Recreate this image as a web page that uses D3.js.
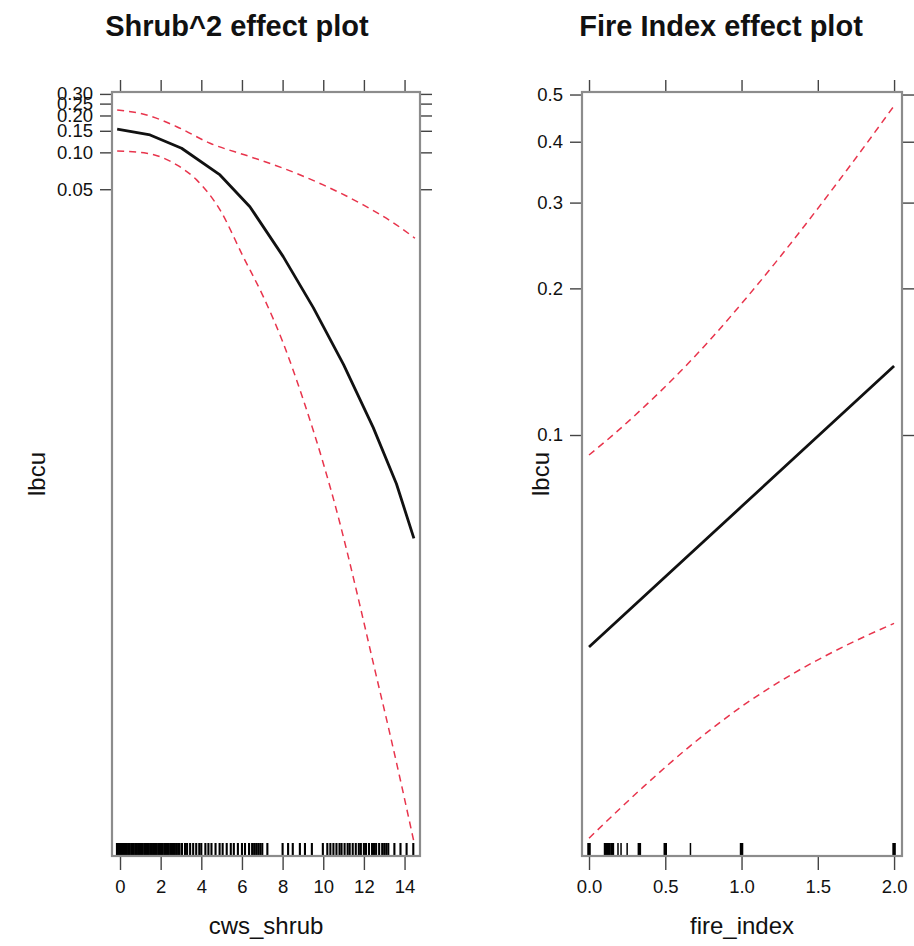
<!DOCTYPE html>
<html>
<head>
<meta charset="utf-8">
<script src="https://cdn.jsdelivr.net/npm/d3@7"></script>
<style>
  html, body { margin: 0; padding: 0; background: #fff; }
  svg { display: block; }
  text { font-family: "Liberation Sans", Arial, Helvetica, sans-serif; fill: #111; }
</style>
</head>
<body>
<script>
// ---------- data ----------
// Left panel: Shrub^2 effect (response scale, log-spaced axis)
const shrubFitX   = [-0.14, 1.48, 3.03, 4.92, 6.39, 8.03, 9.51, 11.0, 12.46, 13.6, 14.46];
const shrubFit    = [0.1545, 0.1388, 0.108, 0.0654, 0.0360, 0.01408, 5.40e-3, 1.85e-3, 5.66e-4, 1.97e-4, 7.06e-5];
const shrubUpperX = [-0.14, 1.31, 2.79, 4.43, 6.39, 8.03, 10.0, 11.97, 13.6, 14.51];
const shrubUpper  = [0.222, 0.202, 0.162, 0.1187, 0.0923, 0.0742, 0.0542, 0.0372, 0.0256, 0.0199];
const shrubLowerX = [-0.14, 1.31, 2.79, 3.77, 4.92, 6.06, 7.05, 8.03, 9.02, 10.0, 10.82, 11.15, 11.81, 12.54, 13.28, 13.87, 14.46];
const shrubLower  = [0.1027, 0.0984, 0.0790, 0.0596, 0.0339, 0.01408, 0.00664, 0.00277, 9.52e-4, 2.90e-4, 9.38e-5, 5.68e-5, 1.98e-5, 5.95e-6, 1.79e-6, 6.60e-7, 2.35e-7];
const shrubRug = [-0.15, -0.08, -0.02, 0.03, 0.08, 0.13, 0.2, 0.27, 0.33, 0.4, 0.47, 0.55, 0.6, 0.68, 0.76, 0.83, 0.9, 0.98, 1.05, 1.12, 1.2, 1.28, 1.35, 1.42, 1.5, 1.57, 1.64, 1.72, 1.8, 1.88, 1.95, 2.02, 2.1, 2.18, 2.26, 2.33, 2.4, 2.48, 2.56, 2.63, 2.7, 2.78, 2.86, 2.93, 3.05, 3.2, 3.3, 3.45, 3.6, 3.75, 3.9, 4.0, 4.2, 4.35, 4.5, 4.7, 4.9, 5.05, 5.25, 5.45, 5.6, 5.8, 6.0, 6.15, 6.35, 6.5, 6.6, 6.7, 6.8, 6.9, 7.0, 7.25,
  8.0, 8.27, 8.5, 8.85, 9.1, 9.44, 9.98, 10.2, 10.35, 10.5, 10.65, 10.8, 10.9, 11.05, 11.2, 11.3, 11.45, 11.6, 11.75, 11.85, 12.0, 12.1, 12.25, 12.4, 12.5, 12.6, 12.75, 12.9, 13.0, 13.1, 13.2, 13.5, 13.8, 14.1, 14.43];
const shrubXTicks = [0, 2, 4, 6, 8, 10, 12, 14];
const shrubYTicks = [0.05, 0.10, 0.15, 0.20, 0.25, 0.30];

// Right panel: Fire Index effect
const fireFitX   = [0, 1, 2];
const fireFit    = [0.0367, 0.0713, 0.1386];
const fireUpperX = [0, 0.157, 0.380, 0.597, 0.813, 1.036, 1.252, 1.469, 1.692, 2.0];
const fireUpper  = [0.0910, 0.1000, 0.1157, 0.1348, 0.1593, 0.1919, 0.232, 0.2834, 0.3503, 0.474];
const fireLowerX = [0, 0.356, 0.684, 1.0, 1.34, 1.668, 2.0];
const fireLower  = [0.01487, 0.01895, 0.02328, 0.0277, 0.0324, 0.03676, 0.04106];
const fireRug       = [0, 0.105, 0.115, 0.125, 0.135, 0.15, 0.16, 0.19, 0.21, 0.25, 0.33, 0.5, 0.665, 1.0, 2.0];
const fireRugCounts = [3, 2, 3, 3, 2, 2, 1, 1, 1, 1, 3, 3, 1, 3, 3];
const fireXTicks = [0, 0.5, 1.0, 1.5, 2.0];
const fireYTicks = [0.1, 0.2, 0.3, 0.4, 0.5];

const titles = ["Shrub^2 effect plot", "Fire Index effect plot"];
const xTitles = ["cws_shrub", "fire_index"];
const yTitle = "lbcu";

// ---------- drawing ----------
const W = 914, H = 946;
const svg = d3.select("body").append("svg").attr("width", W).attr("height", H);

const panels = [
  {
    box: [112, 420, 92, 856],
    x: d3.scaleLinear().domain([-0.394, 14.76]).range([112, 420]),
    y: d3.scaleLog().domain([1.8e-7, 0.311]).range([856, 92]),
    xTicks: shrubXTicks, xFmt: d3.format("d"),
    yTicks: shrubYTicks, yFmt: d3.format(".2f"),
    fit: [shrubFitX, shrubFit], up: [shrubUpperX, shrubUpper], lo: [shrubLowerX, shrubLower],
    rug: shrubRug, rugCounts: null, fitCurve: d3.curveLinear,
    title: titles[0], titleX: 237, xTitle: xTitles[0], yTitleX: 36
  },
  {
    box: [582, 902, 92, 856],
    x: d3.scaleLinear().domain([-0.046, 2.052]).range([582, 902]),
    y: d3.scaleLog().domain([0.01367, 0.506]).range([856, 92]),
    xTicks: fireXTicks, xFmt: d3.format(".1f"),
    yTicks: fireYTicks, yFmt: d3.format(".1f"),
    fit: [fireFitX, fireFit], up: [fireUpperX, fireUpper], lo: [fireLowerX, fireLower],
    rug: fireRug, rugCounts: fireRugCounts, fitCurve: d3.curveLinear,
    title: titles[1], titleX: 721, xTitle: xTitles[1], yTitleX: 540
  }
];

const tickLen = 12;

panels.forEach(p => {
  const [x0, x1, y0, y1] = p.box;
  const g = svg.append("g");

  const cid = "clip" + x0;
  svg.append("clipPath").attr("id", cid).append("rect")
    .attr("x", x0).attr("y", y0).attr("width", x1 - x0).attr("height", y1 - y0);

  const styleAxis = sel => {
    sel.select(".domain").remove();
    sel.selectAll(".tick line").attr("stroke", "#444").attr("stroke-width", 1.4);
    sel.selectAll(".tick text").style("font-size", "18.5px").attr("fill", "#1a1a1a")
      .style("font-family", '"Liberation Sans", Arial, sans-serif');
  };
  g.append("g").attr("transform", `translate(${x0},0)`)
    .call(d3.axisLeft(p.y).tickValues(p.yTicks).tickFormat(p.yFmt).tickSize(tickLen).tickPadding(7))
    .call(styleAxis);
  g.append("g").attr("transform", `translate(${x1},0)`)
    .call(d3.axisRight(p.y).tickValues(p.yTicks).tickFormat("").tickSize(tickLen))
    .call(styleAxis);
  g.append("g").attr("transform", `translate(0,${y1})`)
    .call(d3.axisBottom(p.x).tickValues(p.xTicks).tickFormat(p.xFmt).tickSize(14).tickPadding(10))
    .call(styleAxis);
  g.append("g").attr("transform", `translate(0,${y0})`)
    .call(d3.axisTop(p.x).tickValues(p.xTicks).tickFormat("").tickSize(tickLen))
    .call(styleAxis);

  const plot = g.append("g").attr("clip-path", `url(#${cid})`);

  // rug
  plot.selectAll("line.rug").data(p.rug).join("line")
    .attr("class", "rug")
    .attr("x1", d => p.x(d)).attr("x2", d => p.x(d))
    .attr("y1", y1).attr("y2", y1 - 13)
    .attr("stroke", "#000")
    .attr("stroke-width", (d, i) => p.rugCounts ? 1.5 + 1.0 * (p.rugCounts[i] - 1) : 2.1);

  const mk = (xs, ys) => xs.map((v, i) => [v, ys[i]]);
  const lineSmooth = d3.line().x(d => p.x(d[0])).y(d => p.y(d[1])).curve(d3.curveMonotoneX);
  const lineFit = d3.line().x(d => p.x(d[0])).y(d => p.y(d[1])).curve(p.fitCurve);

  plot.append("path").datum(mk(...p.up)).attr("d", lineSmooth)
    .attr("fill", "none").attr("stroke", "#e8344c").attr("stroke-width", 1.5).attr("stroke-dasharray", "7,5");
  plot.append("path").datum(mk(...p.lo)).attr("d", lineSmooth)
    .attr("fill", "none").attr("stroke", "#e8344c").attr("stroke-width", 1.5).attr("stroke-dasharray", "7,5");
  plot.append("path").datum(mk(...p.fit)).attr("d", lineFit)
    .attr("fill", "none").attr("stroke", "#111").attr("stroke-width", 2.8).attr("stroke-linejoin", "round");

  // box
  g.append("rect").attr("x", x0).attr("y", y0).attr("width", x1 - x0).attr("height", y1 - y0)
    .attr("fill", "none").attr("stroke", "#8c8c8c").attr("stroke-width", 2.2);

  // titles
  svg.append("text").attr("x", p.titleX).attr("y", 36).attr("text-anchor", "middle")
    .style("font-size", "29px").style("font-weight", "bold").text(p.title);
  svg.append("text").attr("x", (x0 + x1) / 2).attr("y", 934).attr("text-anchor", "middle")
    .style("font-size", "24px").text(p.xTitle);
  svg.append("text").attr("transform", `translate(${p.yTitleX},${(y0 + y1) / 2}) rotate(-90)`)
    .attr("text-anchor", "middle").attr("dominant-baseline", "central")
    .style("font-size", "24px").text(yTitle);
});
</script>
</body>
</html>
